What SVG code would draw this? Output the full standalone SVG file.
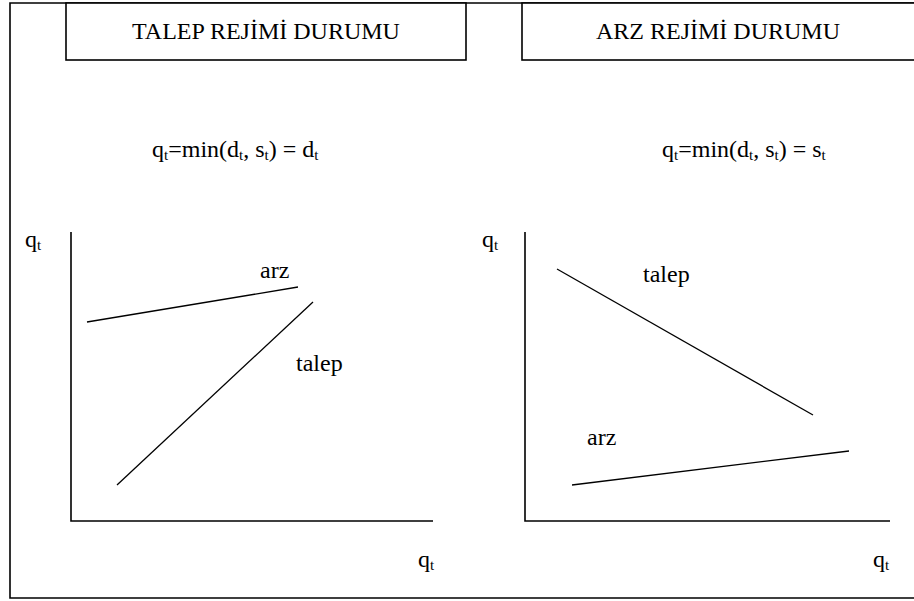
<svg xmlns="http://www.w3.org/2000/svg" width="914" height="601" viewBox="0 0 914 601" font-family="'Liberation Serif','DejaVu Serif','Noto Serif','Times New Roman',serif">
<style>
text{font-family:"Liberation Serif","DejaVu Serif","Noto Serif","Times New Roman",serif;fill:#000;font-size:24px}
.s{font-size:15px}
.ln{stroke:#000;stroke-width:1.3;fill:none}
.ax{stroke:#000;stroke-width:1.6;fill:none}
.box{stroke:#000;stroke-width:1.6;fill:#fff}
</style>
<rect x="0" y="0" width="914" height="601" fill="#fff"/>
<g id="frame"><path class="ax" d="M916,3 H10 V598 H916"/></g>
<g id="title-left"><rect class="box" x="66" y="3" width="400" height="57"/><text x="266" y="39" text-anchor="middle">TALEP REJİMİ DURUMU</text></g>
<g id="title-right"><rect class="box" x="522" y="3" width="400" height="57"/><text x="718" y="39" text-anchor="middle">ARZ REJİMİ DURUMU</text></g>
<g id="formula-left"><text x="152" y="157">q<tspan class="s" dy="3">t</tspan><tspan dy="-3">=min(d</tspan><tspan class="s" dy="3">t</tspan><tspan dy="-3">, s</tspan><tspan class="s" dy="3">t</tspan><tspan dy="-3">) = d</tspan><tspan class="s" dy="3">t</tspan></text></g>
<g id="formula-right"><text x="662" y="157">q<tspan class="s" dy="3">t</tspan><tspan dy="-3">=min(d</tspan><tspan class="s" dy="3">t</tspan><tspan dy="-3">, s</tspan><tspan class="s" dy="3">t</tspan><tspan dy="-3">) = s</tspan><tspan class="s" dy="3">t</tspan></text></g>
<g id="graph-left">
<path class="ax" d="M71,232 V521 H433"/>
<text x="25" y="247">q<tspan class="s" dy="3">t</tspan></text>
<text x="418" y="567">q<tspan class="s" dy="3">t</tspan></text>
</g>
<g id="graph-right">
<path class="ax" d="M525,232 V521 H890"/>
<text x="482" y="247">q<tspan class="s" dy="3">t</tspan></text>
<text x="873" y="567">q<tspan class="s" dy="3">t</tspan></text>
</g>
<g id="connectors">
<line class="ln" x1="87" y1="322" x2="298" y2="287"/>
<line class="ln" x1="117" y1="485" x2="313" y2="302"/>
<line class="ln" x1="557" y1="269" x2="813" y2="415"/>
<line class="ln" x1="572" y1="485" x2="849" y2="451"/>
</g>
<g id="labels">
<text x="260" y="278">arz</text>
<text x="296" y="371">talep</text>
<text x="643" y="282">talep</text>
<text x="587" y="445">arz</text>
</g>
</svg>
